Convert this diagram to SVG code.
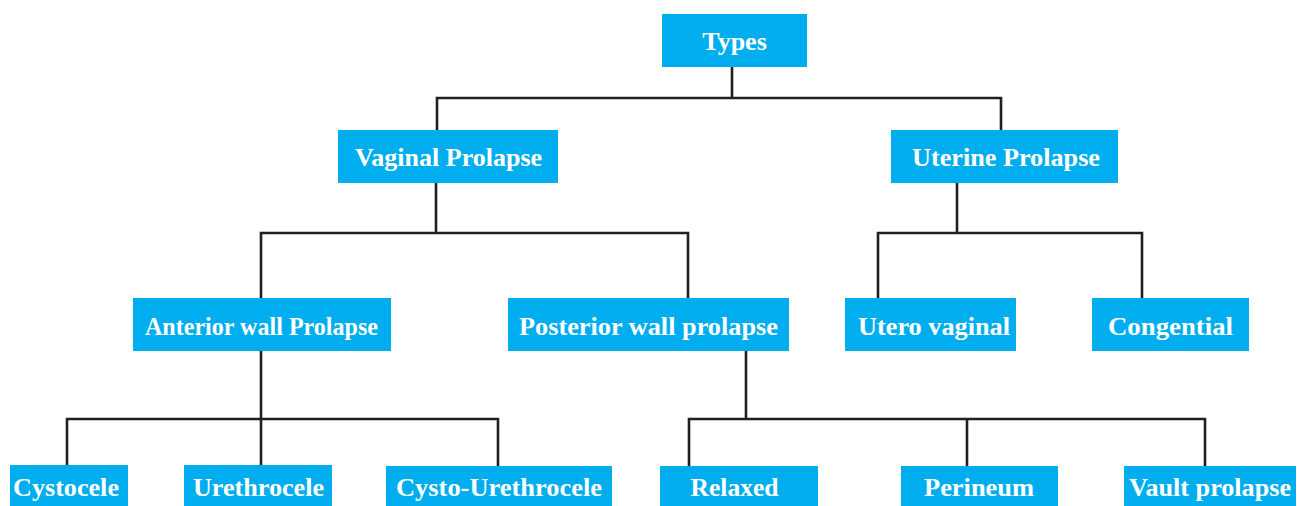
<svg xmlns="http://www.w3.org/2000/svg" width="1306" height="506" viewBox="0 0 1306 506">
<style>
.box{fill:#00AEEF}
.lbl{font-family:"Liberation Serif","Times New Roman",serif;font-weight:bold;font-size:26px;fill:#ffffff;text-anchor:middle}
.con{fill:none;stroke:#231f20;stroke-width:2.6;stroke-linejoin:miter;stroke-linecap:butt}
</style>
<rect width="1306" height="506" fill="#ffffff"/>
<g id="connectors">
<path class="con" d="M732,67 V98 M437,130 V98 H1001 V130"/>
<path class="con" d="M436,183 V233 M261,298 V233 H688 V298"/>
<path class="con" d="M957,183 V233 M878,298 V233 H1142 V298"/>
<path class="con" d="M261,351 V419 M67,465 V419 H498 V466 M261,419 V465"/>
<path class="con" d="M746,351 V419 M689,466 V419 H1205 V466 M967,419 V466"/>
</g>
<g id="types"><rect class="box" x="662" y="14" width="145" height="53"/><text class="lbl" x="734.5" y="49.5">Types</text></g>
<g id="vaginal"><rect class="box" x="338" y="130" width="220" height="53"/><text class="lbl" x="448.5" y="165.5">Vaginal Prolapse</text></g>
<g id="uterine"><rect class="box" x="891" y="130" width="227" height="53"/><text class="lbl" x="1006" y="165.5" textLength="188" lengthAdjust="spacingAndGlyphs">Uterine Prolapse</text></g>
<g id="anterior"><rect class="box" x="133" y="298" width="258" height="53"/><text class="lbl" x="261.5" y="334.5" textLength="233" lengthAdjust="spacingAndGlyphs">Anterior wall Prolapse</text></g>
<g id="posterior"><rect class="box" x="508" y="298" width="281" height="53"/><text class="lbl" x="648.5" y="334.5" textLength="259" lengthAdjust="spacingAndGlyphs">Posterior wall prolapse</text></g>
<g id="utero-vaginal"><rect class="box" x="845" y="298" width="171" height="53"/><text class="lbl" x="934" y="334.5" textLength="152" lengthAdjust="spacingAndGlyphs">Utero vaginal</text></g>
<g id="congential"><rect class="box" x="1092" y="298" width="157" height="53"/><text class="lbl" x="1170.5" y="334.5" textLength="125" lengthAdjust="spacingAndGlyphs">Congential</text></g>
<g id="cystocele"><rect class="box" x="10" y="465" width="118" height="41"/><text class="lbl" x="66" y="496" textLength="106" lengthAdjust="spacingAndGlyphs">Cystocele</text></g>
<g id="urethrocele"><rect class="box" x="184" y="465" width="148" height="41"/><text class="lbl" x="258.5" y="496" textLength="131" lengthAdjust="spacingAndGlyphs">Urethrocele</text></g>
<g id="cysto-urethrocele"><rect class="box" x="386" y="466" width="226" height="40"/><text class="lbl" x="499" y="496" textLength="206" lengthAdjust="spacingAndGlyphs">Cysto-Urethrocele</text></g>
<g id="relaxed"><rect class="box" x="660" y="466" width="158" height="40"/><text class="lbl" x="734.5" y="496" textLength="88" lengthAdjust="spacingAndGlyphs">Relaxed</text></g>
<g id="perineum"><rect class="box" x="901" y="466" width="157" height="40"/><text class="lbl" x="979" y="496" textLength="110" lengthAdjust="spacingAndGlyphs">Perineum</text></g>
<g id="vault"><rect class="box" x="1124" y="466" width="172" height="40"/><text class="lbl" x="1210" y="496" textLength="162" lengthAdjust="spacingAndGlyphs">Vault prolapse</text></g>
</svg>
